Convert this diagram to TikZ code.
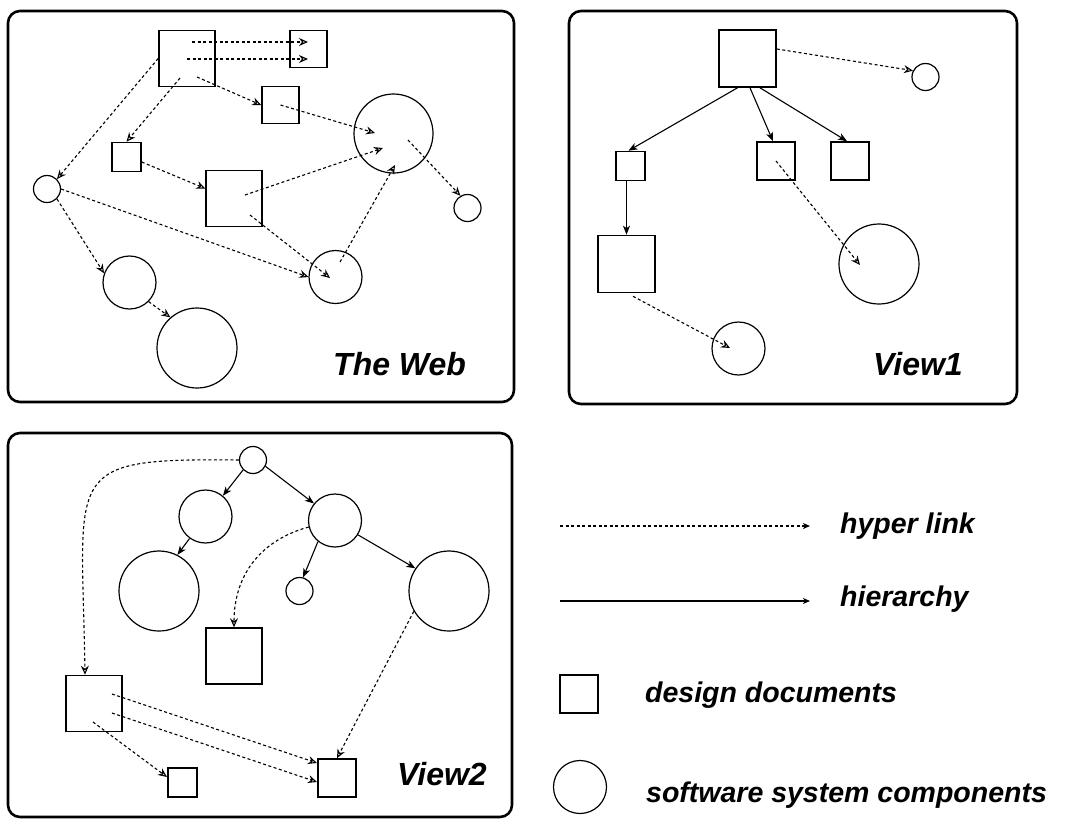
\documentclass[tikz,border=0pt]{standalone}
\usepackage{fontspec}
\setmainfont{Liberation Sans}
\usetikzlibrary{arrows.meta,calc}
\tikzset{
  panel/.style={draw, line width=2.6pt, rounded corners=12pt},
  doc/.style={draw, rectangle, line width=1.6pt, inner sep=0pt, minimum size=#1},
  comp/.style={draw, circle, line width=1.2pt, inner sep=0pt, minimum size=#1},
  hlink/.style={line width=1.1pt, dash pattern=on 3pt off 2.5pt, -{Stealth[open,length=9pt,width=8pt,inset=3pt]}},
  hier/.style={line width=1.1pt, -{Stealth[length=9pt,width=7pt,inset=2.5pt]}},
  title/.style={font=\fontsize{32}{38}\selectfont\bfseries\itshape, anchor=base west, inner sep=0pt},
  legtext/.style={font=\fontsize{28.5}{34}\selectfont\bfseries\itshape, anchor=base west, inner sep=0pt},
}
\begin{document}
\begin{tikzpicture}[x=1pt,y=-1pt]
\useasboundingbox (0,0) rectangle (1066,823);
% ---------------- panels
\draw[panel] (8,11) rectangle (514,402);
\draw[panel] (569,11) rectangle (1017,404);
\draw[panel] (8,433) rectangle (512,817);

% ---------------- The Web
\node[doc=56] (A) at (187,58.5) {};
\node[doc=37] (B) at (308.5,49) {};
\node[doc=37] (C) at (280.5,105) {};
\node[comp=79] (D) at (393.5,133.5) {};
\node[doc=29] (E) at (126.5,157) {};
\node[doc=56] (F) at (234,198.5) {};
\node[comp=27] (G) at (47,189) {};
\node[comp=27] (H) at (467.5,208) {};
\node[comp=53] (I) at (335.5,277) {};
\node[comp=53] (J) at (129.5,282.5) {};
\node[comp=80] (K) at (197,348) {};
\node[title] (tweb) at (333,375) {The Web};

\draw[hlink] ($(A.center)+(5,-16.5)$) -- ($(B.center)+(-0.5,-7)$);
\draw[hlink] ($(A.center)+(0,0.5)$) -- ($(B.center)+(-0.5,10)$);
\draw[hlink] ($(A.center)+(10,18.5)$) -- (C.west);
\draw[hlink] (A.west) -- (G.north east);
\draw[hlink] ($(A.center)+(-7,19.5)$) -- (E.north);
\draw[hlink] (C.center) -- ($(D.center)+(-18.5,-0.5)$);
\draw[hlink] ($(E.east)+(0,5)$) -- ($(F.west)+(0,-10)$);
\draw[hlink] ($(F.center)+(11,-3.5)$) -- ($(D.center)+(-10.5,14.5)$);
\draw[hlink] ($(D.center)+(14.5,6.5)$) -- (H.120);
\draw[hlink] ($(I.center)+(4.5,-15)$) -- ($(D.center)+(1.5,31.5)$);
\draw[hlink] ($(F.center)+(16,16.5)$) -- ($(I.center)+(-5.5,1)$);
\draw[hlink] (G.east) -- (I.west);
\draw[hlink] (G.south east) -- (J.160);
\draw[hlink] (J.south east) -- (K.131);

% ---------------- View1
\node[doc=57] (P) at (747.5,58.5) {};
\node[comp=27] (Q) at (925.5,77) {};
\node[doc=29] (R) at (630.5,166) {};
\node[doc=38] (S) at (776,161) {};
\node[doc=38] (T) at (850,161) {};
\node[doc=57] (U) at (626.5,264) {};
\node[comp=80] (V) at (879,264) {};
\node[comp=53] (W) at (738.5,348.5) {};
\node[title] (tv1) at (873,375) {View1};

\draw[hlink] ($(P.east)+(0,-9.5)$) -- (Q.153);
\draw[hier] ($(P.south)+(-10,0)$) -- ($(R.north)+(-2,0)$);
\draw[hier] ($(P.south)+(2.5,0)$) -- ($(S.north)+(-3,0)$);
\draw[hier] ($(P.south)+(12.5,0)$) -- ($(T.north)+(-3,0)$);
\draw[hier] (R.south -| U.north) -- (U.north);
\draw[hlink] (S.center) -- ($(V.center)+(-19,1)$);
\draw[hlink] ($(U.south)+(6.5,3)$) -- ($(W.center)+(-8.5,-0.5)$);

% ---------------- View2
\node[comp=27] (a) at (253,460) {};
\node[comp=53] (b) at (205.5,516.5) {};
\node[comp=53] (c) at (335,520.5) {};
\node[comp=80] (d) at (159,591) {};
\node[comp=27] (e) at (299.5,591) {};
\node[comp=80] (f) at (449,591) {};
\node[doc=56] (g) at (234,656) {};
\node[doc=56] (h) at (94,703.5) {};
\node[doc=29] (i) at (182.5,782.5) {};
\node[doc=38] (j) at (337,778) {};
\node[title] (tv2) at (397,785) {View2};

\draw[hier] (a.south west) -- (b.50);
\draw[hier] (a.-27) -- (c.141);
\draw[hier] (b.234) -- (d.63);
\draw[hier] (c.231) -- (e.75);
\draw[hier] (c.-32) -- (f.146);
\draw[hlink] (c.194) .. controls +(-45,12) and +(0,-55) .. (g.north);
\draw[hlink] (a.west) .. controls +(-179,-2) and +(-3,-205) .. ($(h.north)+(-9,0)$);
\draw[hlink] ($(h.center)+(18,-9.5)$) -- ($(j.center)+(-20,-15)$);
\draw[hlink] ($(h.center)+(18,9.5)$) -- ($(j.center)+(-20,4)$);
\draw[hlink] ($(h.center)+(-1,18.5)$) -- ($(i.center)+(-15.5,-5.5)$);
\draw[hlink] (f.210) -- (j.north);

% ---------------- legend
\coordinate (l1a) at (560,526);
\coordinate (l1b) at (810,526);
\coordinate (l2a) at (560,601);
\coordinate (l2b) at (810,601);
\draw[line width=1.1pt, dash pattern=on 3pt off 2.5pt, -{Stealth[open,length=7pt,width=6pt,inset=2pt]}] (l1a) -- (l1b);
\draw[line width=1.1pt, -{Stealth[length=7pt,width=6pt,inset=2pt]}] (l2a) -- (l2b);
\node[legtext] (lt1) at (840,533) {hyper link};
\node[legtext] (lt2) at (840,606) {hierarchy};
\node[doc=38] (ls) at (579,694) {};
\node[legtext] (lt3) at (645,702) {design documents};
\node[comp=53] (lc) at (580,787) {};
\node[legtext] (lt4) at (646,802) {software system components};
\end{tikzpicture}
\end{document}
